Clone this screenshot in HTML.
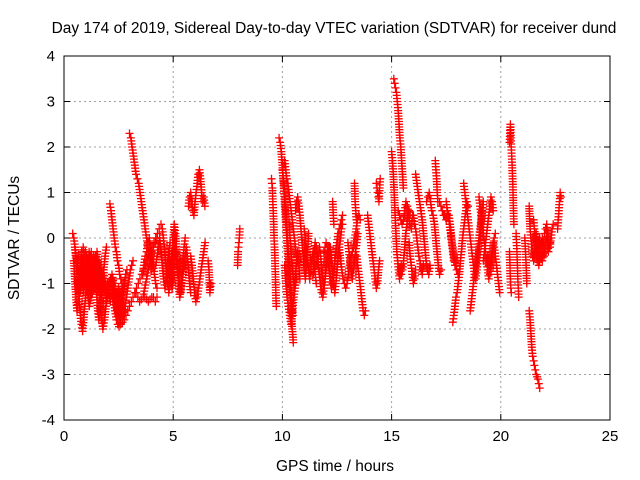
<!DOCTYPE html>
<html><head><meta charset="utf-8"><style>
body{margin:0;background:#fff;}
svg{display:block;font-family:"Liberation Sans",sans-serif;}
</style></head><body>
<svg id="chart" width="640" height="480" viewBox="0 0 640 480">
<rect x="0" y="0" width="640" height="480" fill="#fff"/>
<g id="grid"></g>
<g id="marks"></g>
<rect x="64" y="56" width="546" height="364" fill="none" stroke="#000" stroke-width="1"/>
<g id="axes"></g>
<text x="334" y="33" text-anchor="middle" font-size="15.5">Day 174 of 2019, Sidereal Day-to-day VTEC variation (SDTVAR) for receiver dund</text>
<text x="335" y="471" text-anchor="middle" font-size="15.5">GPS time / hours</text>
<text x="19" y="238" text-anchor="middle" font-size="15.5" transform="rotate(-90 19 238)">SDTVAR / TECUs</text>
</svg>
<script>
const xTicks=[0,5,10,15,20,25];
const yTicks=[-4,-3,-2,-1,0,1,2,3,4];
const trackStart=[0.4,0.5,0.6,1.5,1.8,2.1,3.0,2.6,3.3,3.7,4.5,5.2,5.7,5.8,6.6,7.95,9.5,9.85,10.1,10.1,10.6,11.4,11.9,12.3,12.6,13.4,13.9,14.3,13.3,15.1,15.0,15.3,15.8,16.1,16.6,17.0,17.2,17.8,18.3,19.0,19.4,20.4,20.4,20.7,21.3,21.3,22.0,22.6,21.1,
 0.45,0.9,1.2,2.0,2.5,3.6,4.2,4.8,10.0,10.3,11.0,11.6,12.2,13.0,15.4,16.0,17.5,18.6,19.2,21.5];
const trackStep=[0.05,0.06,0.07,0.07,0.06,0.05,0.06,0.08,0.08,0.08,0.05,0.05,0.05,0.06,0.04,0.02,0.02,0.05,0.05,0.06,0.05,0.05,0.05,0.03,0.06,0.05,0.05,0.03,0.03,0.04,0.04,0.06,0.05,0.06,0.06,0.03,0.06,0.05,0.05,0.05,0.05,0.02,0.02,0.02,0.04,0.04,0.05,0.03,0.03,
 0.05,0.05,0.05,0.06,0.06,0.06,0.06,0.05,0.04,0.05,0.05,0.05,0.05,0.05,0.05,0.05,0.05,0.05,0.05,0.04];
const trackVals=[
[0.1,0,-0.2,-0.5,-0.8,-1.1,-1.4,-1.7,-1.9,-2.05,-1.8,-1.5,-1.2,-1.0,-0.8,-0.6,-0.4,-0.3],
[-0.2,-0.4,-0.6,-0.9,-1.2,-1.0,-0.8,-0.5,-0.3,-0.4,-0.7,-1.0,-1.3,-1.1,-0.8,-0.6,-0.4,-0.5,-0.8,-1.1,-1.3,-1.0,-0.7,-0.4,-0.2],
[-1.0,-0.8,-0.6,-0.3,-0.2,-0.5,-0.8,-1.2,-1.5,-1.3,-1.0,-0.7,-0.4,-0.3,-0.6,-0.9,-1.2,-1.0],
[-0.6,-0.9,-1.3,-1.7,-2.0,-1.8,-1.5,-1.2,-1.0,-0.9,-0.8,-1.0,-1.2,-1.5,-1.7,-1.5],
[-0.7,-0.9,-1.1,-1.3,-1.2,-1.0,-0.9,-1.1,-1.4,-1.6,-1.8,-1.9,-1.95,-1.8,-1.6,-1.3,-1.0,-0.8,-0.7],
[0.75,0.6,0.4,0.2,0,-0.2,-0.3,-0.5,-0.6,-0.8,-0.9,-1.0,-1.1,-1.0],
[2.3,2.2,2.0,1.8,1.6,1.4,1.3,1.2,1.0,0.8,0.6,0.4,0.2,0.0,-0.2,-0.3,-0.5,-0.7],
[-1.9,-1.85,-1.8,-1.7,-1.6,-1.5,-1.4,-1.3,-1.2,-1.1,-1.0,-0.9,-0.8,-0.7,-0.6,-0.5,-0.4,-0.3,-0.2,-0.1,0,0.1,0.2,0.3],
[-1.2,-1.3,-1.4,-1.35,-1.3,-1.1,-0.9,-0.7,-0.5,-0.3,-0.2,-0.1,0.0],
[-1.3,-1.35,-1.4,-1.35,-1.3,-1.3,-1.4,-1.3],
[0.2,0,-0.2,-0.5,-0.8,-1.0,-1.2,-1.0,-0.7,-0.4,-0.1,0.3,0.1,-0.3,-0.7,-1.0,-1.3,-1.1,-0.8,-0.5,-0.2,0],
[-0.5,-0.8,-1.0,-1.2,-1.0,-0.8,-0.6,-0.4,-0.2,-0.4,-0.7,-1.0,-1.2],
[0.7,0.9,1.0,0.8,0.6,0.5,0.8,1.0,1.2,1.4,1.5,1.3,1.0,0.8,0.9,0.7],
[-0.4,-0.6,-0.9,-1.2,-1.4,-1.3,-1.1,-0.9,-0.7,-0.5,-0.3,-0.1],
[-0.5,-0.7,-1.2,-1.0],
[-0.6,-0.3,-0.2,-0.1,0,0.2],
[1.3,1.2,1.1,0.8,0.6,0.3,0,-0.2,-0.5,-0.8,-1.2,-1.5],
[2.2,2.1,1.9,1.6,1.2,0.8,0.4,0,-0.4,-0.8,-1.2,-1.6,-2.0,-2.3],
[1.7,1.5,1.3,1.2,1.0,0.8,0.6,0.4,0.2,0,-0.2,-0.4,-0.5],
[-0.6,-1.0,-1.3,-1.5,-1.7,-1.9,-1.6,-1.3,-1.1,-0.9],
[0.6,0.8,0.9,0.7,0.5,0.2,-0.1,-0.4,-0.7,-0.9,-0.6,-0.3,0.1],
[-0.8,-0.3,-0.1,-0.2,-0.4,-0.6,-0.8,-1.0,-1.2,-1.3,-1.1,-0.9,-0.7,-0.5,-0.3,-0.2,-0.2],
[-0.3,-0.2,-0.1,-0.2,-0.4,-0.6,-0.9,-1.1,-1.0,-0.8,-0.5,-0.3,-0.1,0.1,0.2,0.3,0.4,0.5],
[0.8,0.5,0.3],
[-0.2,-0.5,-0.7,-0.9,-1.0,-1.1,-1.0,-0.8,-0.6,-0.4,-0.3,-0.2,0,0.2,0.4,0.5,0.4],
[-0.4,-0.6,-0.8,-1.0,-1.2,-1.4,-1.6,-1.7,-1.6],
[0.5,0.3,0.1,-0.1,-0.3,-0.5,-0.7,-0.9,-1.1,-1.0,-0.7,-0.5],
[1.2,1.1,1.0,0.9,0.8,1.1,1.3],
[1.2,0.8,0.6,0.4],
[3.5,3.4,3.3,3.2,3.0,2.8,2.5,2.2,2.0,1.7,1.4,1.1],
[1.9,1.7,1.4,1.0,0.5,0.1,-0.3,-0.5,-0.7,-0.9,-0.8,-0.6],
[0.6,0.5,0.4,0.3,0.4,0.6,0.8,0.7,0.5,0.3,0.2,0.5],
[-0.1,-0.4,-0.6,-0.8,-1.0,-0.9,-0.7],
[1.4,1.2,1.0,0.8,0.6,0.4,0.1,-0.2,-0.5,-0.7,-0.8,-0.6],
[0.8,0.9,1.0,0.8,0.6,0.5,0.3,0.0,-0.3,-0.6,-0.8,-0.7],
[1.7,1.5,1.3,1.0,0.8],
[0.8,0.7,0.6,0.5,0.5,0.4,0.6,0.5,0.3,0.0,-0.2,-0.4,-0.6,-0.7,-0.8],
[-1.85,-1.7,-1.5,-1.3,-1.2,-1.0,-0.8,-0.5,-0.3,0,0.2,0.4,0.6,0.8,0.7],
[1.2,1.0,0.8,0.6,0.4,0.2,0.0,-0.2,-0.4,-0.6,-0.8,-0.9,-0.7,-0.5,-0.3,0,0.3,0.6],
[0.9,0.7,0.5,0.3,0.1,-0.1,-0.3,-0.5,-0.7,-0.9,-0.8,-0.6,-0.4,-0.2,0,0.1],
[-0.4,-0.6,-0.7,-0.5,-0.3,-0.1,-0.2,-0.4,-0.6,-0.8,-1.0,-1.2],
[2.1,2.3,2.5,2.2,2.0,1.8,1.6,1.3,1.0,0.6,0.3],
[-0.3,-0.6,-0.9,-1.1,-1.2],
[0.1,-0.1,-0.3,-0.6,-0.9,-1.1,-1.3],
[-1.6,-1.8,-2.1,-2.4,-2.6,-2.7,-2.8,-2.9,-3.0,-3.05,-3.1,-3.2,-3.3],
[0.7,0.2,0,-0.2,-0.4,-0.5,-0.3,-0.1,0.1,-0.2,-0.4,-0.6,-0.5,-0.3,-0.1,0,-0.2,-0.4,-0.3,-0.1,0.1,-0.1,-0.3,-0.2,-0.1],
[0.1,0.2,0.3,0.1,-0.1,-0.2,0,0.2,0.3],
[0.2,0.4,0.6,0.8,1.0,0.9],
[0,-0.3,-0.6,-1.0],
[-0.5,-0.9,-1.3,-1.6,-1.4,-1.1,-0.8,-0.6,-0.9,-1.2,-1.0,-0.7,-0.5,-0.8,-1.1,-1.3,-1.0,-0.6],
[-0.4,-0.7,-1.0,-0.8,-0.5,-0.3,-0.6,-0.9,-1.2,-0.9,-0.6,-0.4,-0.7,-1.0],
[-1.2,-0.9,-0.6,-0.4,-0.7,-1.0,-1.3,-1.6,-1.8,-1.5,-1.2,-0.9,-0.7,-0.9,-1.2,-1.4],
[-1.0,-1.2,-1.4,-1.1,-0.9,-1.0,-1.3,-1.6,-1.8,-1.7,-1.4,-1.2,-1.0],
[-1.1,-1.4,-1.6,-1.8,-1.7,-1.5,-1.3,-1.1,-0.9,-0.7,-0.6,-0.5],
[-0.8,-0.6,-0.4,-0.3,-0.1,0.0,-0.2,-0.4,-0.6,-0.8,-1.0,-1.1],
[-0.6,-0.4,-0.2,0.0,-0.3,-0.6,-0.9,-1.1,-0.9,-0.6,-0.3,-0.1],
[-0.3,-0.6,-0.9,-1.1,-0.8,-0.5,-0.2,-0.4,-0.7,-1.0,-0.8,-0.5],
[1.5,1.3,1.1,0.9,0.6,0.3,0,-0.3,-0.6,-0.9,-1.2,-1.5,-1.7],
[0.3,0,-0.3,-0.6,-0.9,-1.1,-0.8,-0.5,-0.3,-0.6,-0.9],
[0.2,0,-0.2,-0.5,-0.7,-0.9,-0.7,-0.5,-0.3,-0.5,-0.8,-1.0],
[-0.6,-0.4,-0.2,-0.4,-0.7,-0.9,-1.1,-0.9,-0.6,-0.4,-0.2],
[-0.2,-0.5,-0.8,-1.0,-1.2,-1.0,-0.7,-0.4,-0.2,0,0.2,0.3],
[-0.1,-0.3,-0.5,-0.7,-0.9,-0.7,-0.5,-0.3,-0.1,0.1],
[-0.7,-0.8,-0.7,-0.5,-0.2,0.1,0.3,0.5,0.6,0.5],
[0.5,0.3,0.2,0,-0.2,-0.4,-0.5,-0.7,-0.8,-0.6],
[0.8,0.6,0.5,0.3,0.1,-0.1,-0.3,-0.5,-0.6,-0.5],
[-1.6,-1.4,-1.2,-1.0,-0.8,-0.6,-0.4,-0.2,0,0.2,0.4,0.6,0.8],
[-0.5,-0.3,-0.1,0.1,0.3,0.5,0.7,0.9,0.8,0.6],
[0.4,0.2,-0.1,-0.3,-0.5,-0.4,-0.2,0,-0.2,-0.4,-0.5,-0.3,-0.1]
];
const NS='http://www.w3.org/2000/svg';
const L=64,R=610,T=56,B=420;
function xs(v){return L+(v-0)/(25-0)*(R-L);}
function ys(v){return B-(v+4)/8*(B-T);}
const grid=document.getElementById('grid'),axes=document.getElementById('axes'),marks=document.getElementById('marks');
function mk(tag,at,parent){const e=document.createElementNS(NS,tag);for(const k in at)e.setAttribute(k,at[k]);parent.appendChild(e);return e;}
xTicks.forEach(t=>{const x=xs(t);
 if(t>0&&t<25){const g=mk('line',{x1:x,y1:T,x2:x,y2:B,stroke:'#a0a0a0','stroke-dasharray':'2,3'},grid);
 
 }
 const tk=mk('path',{d:`M${x},${B}v-6M${x},${T}v6`,stroke:'#000'},axes);
 
 
 const lb=mk('text',{x:x,y:B+21,'text-anchor':'middle','font-size':'15'},axes);lb.textContent=t;
 
 
});
yTicks.forEach(t=>{const y=ys(t);
 if(t>-4&&t<4){const g=mk('line',{x1:L,y1:y,x2:R,y2:y,stroke:'#a0a0a0','stroke-dasharray':'2,3'},grid);
 
 }
 const tk=mk('path',{d:`M${L},${y}h6M${R},${y}h-6`,stroke:'#000'},axes);
 
 
 const lb=mk('text',{x:L-9,y:y+5,'text-anchor':'end','font-size':'15'},axes);lb.textContent=t;
 
 
});
trackVals.forEach((vals,i)=>{
 let d='';
 vals.forEach((v,j)=>{const x=xs(trackStart[i]+j*trackStep[i]),y=ys(v);
  d+=`M${(x-4).toFixed(1)},${y.toFixed(1)}h8M${x.toFixed(1)},${(y-4).toFixed(1)}v8`;
  if(j<vals.length-1){const x2=xs(trackStart[i]+(j+1)*trackStep[i]),y2=ys(vals[j+1]);
   const n=Math.max(1,Math.floor(Math.hypot(x2-x,y2-y)/2.5));
   for(let k=1;k<n;k++){const xi=x+(x2-x)*k/n,yi=y+(y2-y)*k/n;
    d+=`M${(xi-4).toFixed(1)},${yi.toFixed(1)}h8M${xi.toFixed(1)},${(yi-4).toFixed(1)}v8`;}}
 });
 const p=mk('path',{d:d,stroke:'#ff0000','stroke-width':'1.3',fill:'none'},marks);
 
 
});
</script>
</body></html>
